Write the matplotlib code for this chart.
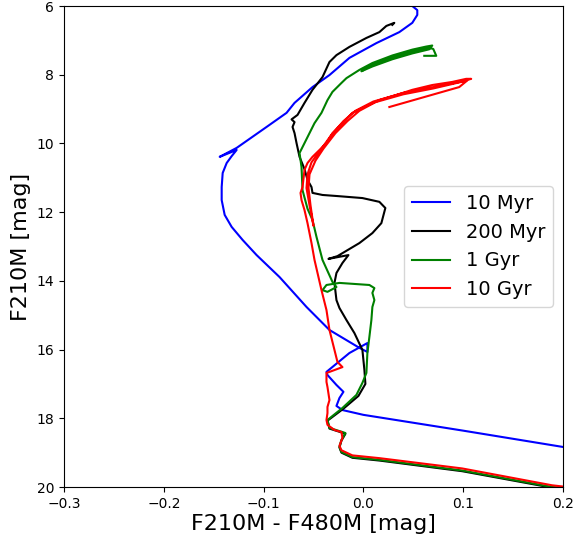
# isochrones in F210M vs F210M - F480M
import matplotlib
matplotlib.use('Agg')
import matplotlib.pyplot as plt

# --- data ---
labels = ['10 Myr', '200 Myr', '1 Gyr', '10 Gyr']
line_colors = ['blue', 'black', 'green', 'red']

myr10_col = [0.21, 0.199, 0.10, 0.0, -0.021, -0.027, -0.024, -0.020, -0.027, -0.036,
             -0.037, -0.014, 0.004, 0.004, -0.004, -0.034, -0.057, -0.084, -0.107, -0.121,
             -0.132, -0.139, -0.142, -0.142, -0.141, -0.137, -0.132, -0.127, -0.144, -0.127,
             -0.097, -0.077, -0.069, -0.051, -0.034, -0.014, 0.013, 0.036, 0.049, 0.054,
             0.054, 0.049, 0.046]
myr10_mag = [18.88, 18.83, 18.36, 17.90, 17.76, 17.64, 17.41, 17.23, 17.03, 16.74,
             16.65, 16.10, 15.81, 16.07, 15.95, 15.43, 14.76, 13.89, 13.25, 12.81,
             12.43, 12.08, 11.65, 11.27, 10.86, 10.57, 10.37, 10.19, 10.39, 10.13,
             9.52, 9.11, 8.82, 8.36, 8.01, 7.51, 7.08, 6.76, 6.49, 6.26,
             6.12, 6.0, 5.83]

myr200_col = [0.21, 0.189, 0.099, 0.016, -0.011, -0.022, -0.024, -0.022, -0.018, -0.021,
              -0.034, -0.036, -0.020, -0.005, 0.002, 0.001, -0.001, -0.009, -0.017, -0.024,
              -0.027, -0.029, -0.027, -0.021, -0.015, -0.035, -0.026, -0.004, 0.009, 0.018,
              0.022, 0.016, -0.001, -0.027, -0.041, -0.051, -0.052, -0.056, -0.059, -0.064,
              -0.067, -0.069, -0.071, -0.069, -0.072, -0.066, -0.059, -0.051, -0.041, -0.034,
              -0.027, -0.014, 0.003, 0.016, 0.023, 0.031, 0.029]
myr200_mag = [20.07, 20.02, 19.54, 19.23, 19.15, 19.0, 18.85, 18.65, 18.45, 18.42,
              18.30, 18.07, 17.72, 17.35, 17.0, 16.59, 16.01, 15.52, 15.14, 14.79,
              14.56, 14.06, 13.77, 13.48, 13.25, 13.36, 13.28, 12.90, 12.61, 12.32,
              11.88, 11.70, 11.59, 11.53, 11.50, 11.44, 11.27, 11.06, 10.75, 10.39,
              9.99, 9.70, 9.52, 9.38, 9.30, 9.17, 8.82, 8.44, 8.07, 7.63,
              7.43, 7.19, 6.93, 6.76, 6.58, 6.49, 6.55]

gyr1_col = [0.21, 0.189, 0.099, 0.016, -0.011, -0.022, -0.024, -0.022, -0.018, -0.021,
            -0.034, -0.036, -0.021, -0.007, -0.001, 0.003, 0.004, 0.006, 0.008, 0.009,
            0.011, 0.009, 0.011, 0.006, -0.024, -0.037, -0.041, -0.036, -0.027, -0.031,
            -0.041, -0.047, -0.051, -0.056, -0.061, -0.062, -0.064, -0.059, -0.054, -0.049,
            -0.042, -0.036, -0.031, -0.022, -0.017, -0.004, 0.009, 0.029, 0.049, 0.063,
            0.069, 0.066, 0.049, 0.029, 0.009, -0.002, 0.009, 0.029, 0.049, 0.066,
            0.070, 0.073, 0.061]
gyr1_mag = [20.05, 20.0, 19.52, 19.21, 19.13, 18.98, 18.83, 18.63, 18.43, 18.40,
            18.28, 18.05, 17.70, 17.32, 16.97, 16.68, 16.10, 15.63, 15.14, 14.76,
            14.56, 14.35, 14.21, 14.12, 14.06, 14.12, 14.27, 14.32, 14.18, 14.03,
            13.39, 12.72, 12.23, 11.90, 11.36, 10.69, 10.28, 9.99, 9.70, 9.41,
            9.11, 8.74, 8.50, 8.24, 8.10, 7.86, 7.66, 7.44, 7.27, 7.18,
            7.15, 7.26, 7.38, 7.55, 7.76, 7.90, 7.70, 7.50, 7.33, 7.22,
            7.25, 7.45, 7.45]

gyr10_col = [0.21, 0.189, 0.099, 0.016, -0.011, -0.022, -0.024, -0.021, -0.022, -0.029,
             -0.036, -0.037, -0.036, -0.036, -0.034, -0.036, -0.037, -0.037, -0.034, -0.021,
             -0.026, -0.029, -0.034, -0.037, -0.042, -0.049, -0.052, -0.056, -0.059, -0.062,
             -0.063, -0.061, -0.059, -0.056, -0.051, -0.044, -0.037, -0.031, -0.021, -0.011,
             -0.001, 0.016, 0.033, 0.049, 0.069, 0.089, 0.103, 0.108,
             0.100, 0.070, 0.040, 0.010, -0.008, -0.020, -0.032, -0.042, -0.052, -0.056,
             -0.057, -0.054, -0.050,
             -0.053, -0.055, -0.054, -0.048, -0.040, -0.028, -0.016, -0.004, 0.012, 0.040,
             0.070, 0.104, 0.096, 0.026]
gyr10_mag = [20.02, 19.95, 19.46, 19.16, 19.08, 18.93, 18.80, 18.57, 18.40, 18.34,
             18.19, 18.05, 17.85, 17.67, 17.47, 17.09, 16.94, 16.68, 16.65, 16.51,
             16.36, 16.01, 15.43, 14.85, 14.27, 13.39, 12.90, 12.32, 11.94, 11.65,
             11.44, 11.27, 10.77, 10.57, 10.39, 10.19, 9.99, 9.70, 9.41, 9.11,
             8.97, 8.74, 8.59, 8.44, 8.30, 8.21, 8.12, 8.12,
             8.19, 8.36, 8.53, 8.78, 9.05, 9.35, 9.75, 10.15, 10.55, 10.90,
             11.30, 11.80, 12.40,
             11.80, 11.30, 10.90, 10.50, 10.15, 9.70, 9.35, 9.05, 8.80, 8.57,
             8.40, 8.17, 8.36, 8.94]

x_ticks = [-0.3, -0.2, -0.1, 0.0, 0.1, 0.2]
y_ticks = [6, 8, 10, 12, 14, 16, 18, 20]

series_col = [myr10_col, myr200_col, gyr1_col, gyr10_col]
series_mag = [myr10_mag, myr200_mag, gyr1_mag, gyr10_mag]

# --- figure ---
fig = plt.figure(figsize=(5.73, 5.41), dpi=100)
ax = fig.add_axes([64 / 573, 54 / 541, 499 / 573, 481 / 541])

for xs, ys, c, lab in zip(series_col, series_mag, line_colors, labels):
    ax.plot(xs, ys, color=c, lw=1.5, label=lab)

ax.set_xlim(-0.3, 0.2)
ax.set_ylim(20, 6)  # magnitudes: bright at top
ax.set_xticks(x_ticks)
ax.set_yticks(y_ticks)
ax.set_xlabel('F210M - F480M [mag]', fontsize=16, labelpad=2)
ax.set_ylabel('F210M [mag]', fontsize=16)
ax.legend(loc='center right', fontsize=14)

fig.savefig('out.png', dpi=100)
